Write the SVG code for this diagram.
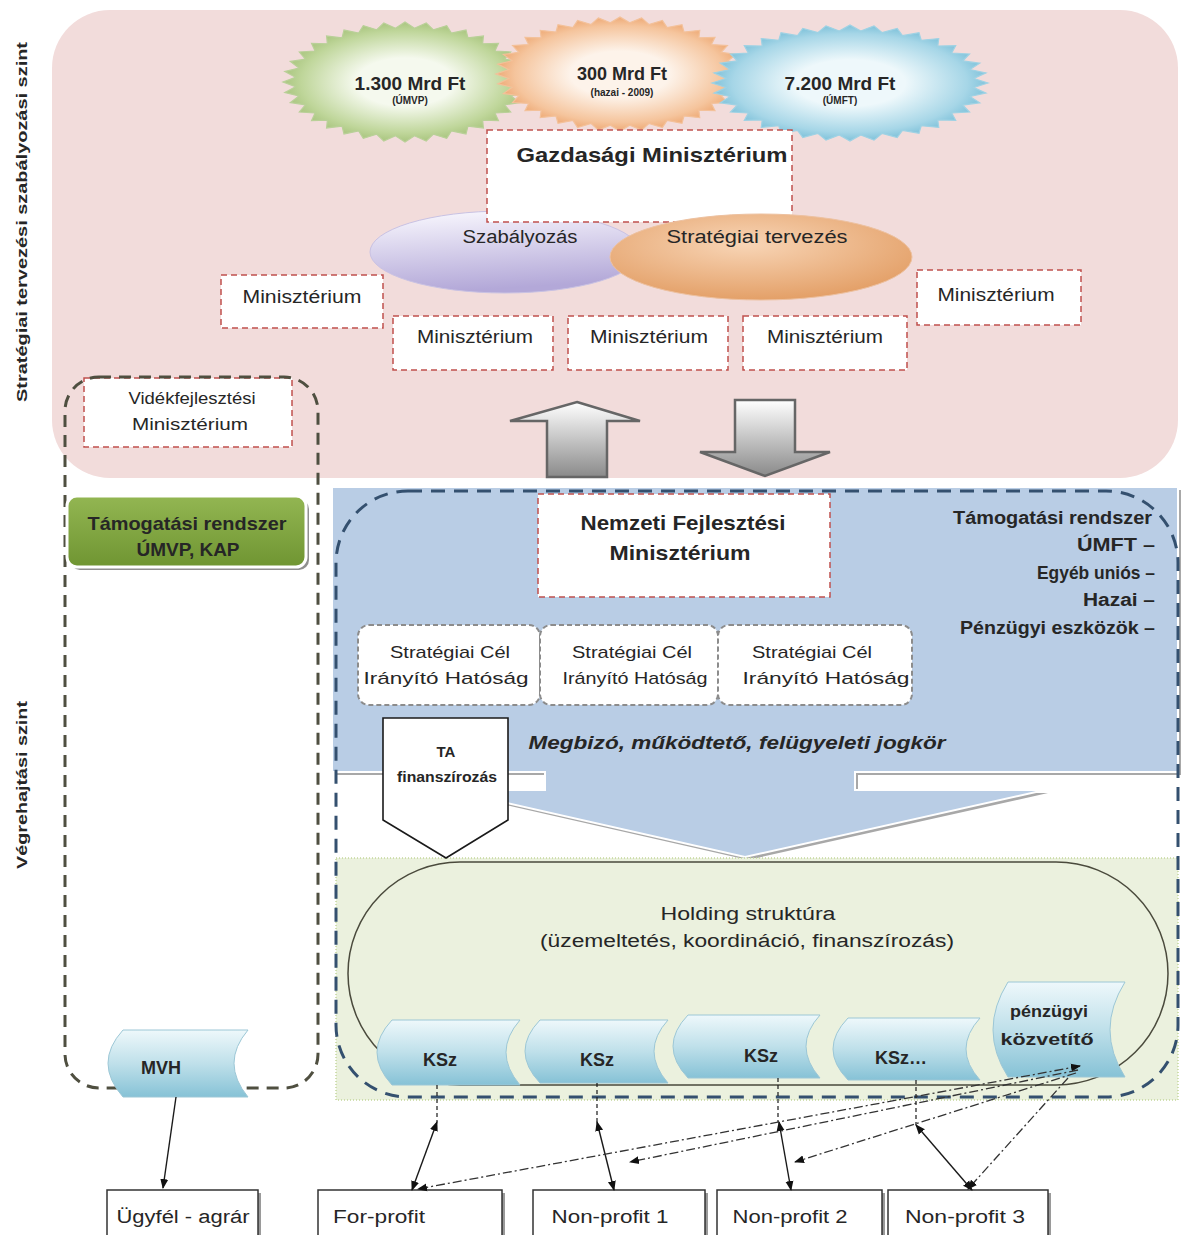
<svg xmlns="http://www.w3.org/2000/svg" width="1181" height="1235" viewBox="0 0 1181 1235">
<style>
text{font-family:"Liberation Sans",Arial,sans-serif;fill:#262626}
.b{font-weight:bold}
.mid{text-anchor:middle}
.min{fill:#fff;stroke:#c0504d;stroke-width:1.5;stroke-dasharray:6,4}
.cel{fill:#fff;stroke:#8c8c8c;stroke-width:2;stroke-dasharray:5,3}
.ksz{fill:url(#gKsz);stroke:#9cc7d6;stroke-width:1}
.bot{fill:#fff;stroke:#333;stroke-width:1.5}
.sh{fill:#9a9a9a}
.con{fill:none;stroke:#1a1a1a;stroke-width:1.4}
.vd{fill:none;stroke:#1a1a1a;stroke-width:1.2;stroke-dasharray:4,3}
.dd{fill:none;stroke:#333;stroke-width:1.3;stroke-dasharray:9,3,2,3}
.star{stroke-width:1.2}
</style>
<defs>
<polygon id="star" vector-effect="non-scaling-stroke" points="100,0 89.7,7.8 98.5,17.4 86.9,23.3 94,34.2 81.6,38 86.6,50 73.7,51.6 76.6,64.3 63.6,63.6 64.3,76.6 51.6,73.7 50,86.6 38,81.6 34.2,94 23.3,86.9 17.4,98.5 7.8,89.7 0,100 -7.8,89.7 -17.4,98.5 -23.3,86.9 -34.2,94 -38,81.6 -50,86.6 -51.6,73.7 -64.3,76.6 -63.6,63.6 -76.6,64.3 -73.7,51.6 -86.6,50 -81.6,38 -94,34.2 -86.9,23.3 -98.5,17.4 -89.7,7.8 -100,0 -89.7,-7.8 -98.5,-17.4 -86.9,-23.3 -94,-34.2 -81.6,-38 -86.6,-50 -73.7,-51.6 -76.6,-64.3 -63.6,-63.6 -64.3,-76.6 -51.6,-73.7 -50,-86.6 -38,-81.6 -34.2,-94 -23.3,-86.9 -17.4,-98.5 -7.8,-89.7 0,-100 7.8,-89.7 17.4,-98.5 23.3,-86.9 34.2,-94 38,-81.6 50,-86.6 51.6,-73.7 64.3,-76.6 63.6,-63.6 76.6,-64.3 73.7,-51.6 86.6,-50 81.6,-38 94,-34.2 86.9,-23.3 98.5,-17.4 89.7,-7.8"/>
<radialGradient id="gStarG"><stop offset="0.4" stop-color="#f5f9ee"/><stop offset="0.85" stop-color="#bfd69a"/><stop offset="1" stop-color="#a9c57f"/></radialGradient>
<radialGradient id="gStarO"><stop offset="0.4" stop-color="#fdf3ea"/><stop offset="0.85" stop-color="#f5c49c"/><stop offset="1" stop-color="#eeaa76"/></radialGradient>
<radialGradient id="gStarB"><stop offset="0.4" stop-color="#eef8fb"/><stop offset="0.85" stop-color="#a6d6e7"/><stop offset="1" stop-color="#80c2da"/></radialGradient>
<linearGradient id="gLav" x1="0" y1="0" x2="0.2" y2="1"><stop offset="0" stop-color="#fbfaff"/><stop offset="1" stop-color="#b3a8d8"/></linearGradient>
<radialGradient id="gPeach" cx="0.45" cy="0.35" r="0.7"><stop offset="0" stop-color="#f8d5b6"/><stop offset="1" stop-color="#e29c62"/></radialGradient>
<linearGradient id="gKsz" x1="0" y1="0" x2="0" y2="1"><stop offset="0" stop-color="#eef8fb"/><stop offset="0.5" stop-color="#bfe0ea"/><stop offset="1" stop-color="#86c2d6"/></linearGradient>
<linearGradient id="gGray" x1="0" y1="0" x2="0" y2="1"><stop offset="0" stop-color="#ffffff"/><stop offset="1" stop-color="#8a8a8a"/></linearGradient>
<linearGradient id="gGreenBox" x1="0" y1="0" x2="0" y2="1"><stop offset="0" stop-color="#93b652"/><stop offset="1" stop-color="#6f9532"/></linearGradient>
<marker id="ah" viewBox="0 0 10 10" refX="9" refY="5" markerWidth="10" markerHeight="10" markerUnits="userSpaceOnUse" orient="auto-start-reverse"><path d="M0,1 L10,5 L0,9 Z" fill="#111"/></marker>
</defs>

<rect x="0" y="0" width="1181" height="1235" fill="#fff"/>
<g id="strategic-area">
<rect x="52" y="10" width="1126" height="468" rx="58" fill="#f2dcdb"/>
</g>
<g id="execution-area">
<path d="M335,490 H1181 V775 H858 V793 H1048 L748,860 L453,793 H548 V775 H335 Z" fill="#a8a8a8"/>
<path d="M332,487 H1178 V772 H855 V790 H1045 L745,857 L450,790 H545 V772 H332 Z" fill="#b9cde5" stroke="#fff" stroke-width="2"/>
</g>
<g id="holding-area">
<rect x="336" y="858" width="842" height="242" fill="#ebf1de" stroke="#c3d69b" stroke-width="1.5" stroke-dasharray="1,2"/>
</g>

<g id="labels">
<text class="b mid" x="0" y="0" font-size="15" textLength="360" lengthAdjust="spacingAndGlyphs" transform="translate(27,222) rotate(-90)">Stratégiai tervezési  szabályozási szint</text>
<text class="b mid" x="0" y="0" font-size="15" textLength="168" lengthAdjust="spacingAndGlyphs" transform="translate(27,785) rotate(-90)">Végrehajtási szint</text>
</g>

<g id="star-umvp">
<use href="#star" class="star" fill="url(#gStarG)" stroke="#b9d098" transform="translate(405,82) scale(1.22,0.6)"/>
<text class="b mid" x="410" y="90" font-size="19">1.300 Mrd Ft</text>
<text class="b mid" x="410" y="104" font-size="10">(ÚMVP)</text>
</g>
<g id="star-hazai">
<use href="#star" class="star" fill="url(#gStarO)" stroke="#f3c19a" transform="translate(620,74) scale(1.24,0.57)"/>
<text class="b mid" x="622" y="80" font-size="18">300 Mrd Ft</text>
<text class="b mid" x="622" y="96" font-size="10">(hazai - 2009)</text>
</g>
<g id="star-umft">
<use href="#star" class="star" fill="url(#gStarB)" stroke="#9fd2e4" transform="translate(850,83) scale(1.38,0.58)"/>
<text class="b mid" x="840" y="90" font-size="19">7.200 Mrd Ft</text>
<text class="b mid" x="840" y="104" font-size="10">(ÚMFT)</text>
</g>

<g id="szabalyozas">
<ellipse cx="505" cy="252" rx="135" ry="41" fill="url(#gLav)" stroke="#c9c2e3" stroke-width="1"/>
<text class="mid" x="520" y="243" font-size="18" textLength="115" lengthAdjust="spacingAndGlyphs">Szabályozás</text>
</g>
<g id="gm">
<rect class="min" x="487" y="130" width="305" height="92"/>
<text class="b mid" x="652" y="162" font-size="21" textLength="271" lengthAdjust="spacingAndGlyphs">Gazdasági Minisztérium</text>
</g>
<g id="strategiai-tervezes">
<ellipse cx="761" cy="257" rx="151" ry="43" fill="url(#gPeach)" stroke="#edc1a0" stroke-width="1"/>
<text class="mid" x="757" y="243" font-size="18" textLength="181" lengthAdjust="spacingAndGlyphs">Stratégiai tervezés</text>
</g>

<g id="min1"><rect class="min" x="221" y="275" width="162" height="53"/><text class="mid" x="302" y="303" font-size="18" textLength="119" lengthAdjust="spacingAndGlyphs">Minisztérium</text></g>
<g id="min2"><rect class="min" x="393" y="316" width="160" height="54"/><text class="mid" x="475" y="343" font-size="18" textLength="116" lengthAdjust="spacingAndGlyphs">Minisztérium</text></g>
<g id="min3"><rect class="min" x="568" y="316" width="160" height="54"/><text class="mid" x="649" y="343" font-size="18" textLength="118" lengthAdjust="spacingAndGlyphs">Minisztérium</text></g>
<g id="min4"><rect class="min" x="743" y="316" width="164" height="54"/><text class="mid" x="825" y="343" font-size="18" textLength="116" lengthAdjust="spacingAndGlyphs">Minisztérium</text></g>
<g id="min5"><rect class="min" x="917" y="270" width="164" height="55"/><text class="mid" x="996" y="301" font-size="18" textLength="117" lengthAdjust="spacingAndGlyphs">Minisztérium</text></g>
<g id="vm"><rect class="min" x="84" y="378" width="208" height="69"/><text class="mid" x="192" y="404" font-size="17" textLength="127" lengthAdjust="spacingAndGlyphs" fill="#3a3a3a">Vidékfejlesztési</text><text class="mid" x="190" y="430" font-size="17" textLength="116" lengthAdjust="spacingAndGlyphs" fill="#3a3a3a">Minisztérium</text></g>

<g id="arrow-up">
<path d="M577,402 L640,421 H607 V477 H547 V421 H510 Z" fill="url(#gGray)" stroke="#666" stroke-width="2.5"/>
</g>
<g id="arrow-down">
<path d="M735,400 H795 V452 H830 L765,476 L700,452 H735 Z" fill="url(#gGray)" stroke="#666" stroke-width="2.5"/>
</g>

<g id="vm-group">
<rect x="65" y="377" width="253" height="711" rx="34" fill="none" stroke="#4f4f40" stroke-width="3" stroke-dasharray="12,8"/>
</g>
<g id="tam-umvp">
<rect x="70" y="499" width="239" height="71" rx="10" fill="#8f8f8f"/>
<rect x="67" y="496" width="239" height="71" rx="10" fill="url(#gGreenBox)" stroke="#fff" stroke-width="3"/>
<text class="b mid" x="187" y="530" font-size="19" textLength="199" lengthAdjust="spacingAndGlyphs" fill="#111">Támogatási rendszer</text>
<text class="b mid" x="188" y="556" font-size="19" textLength="103" lengthAdjust="spacingAndGlyphs" fill="#111">ÚMVP, KAP</text>
</g>

<g id="nfm">
<rect class="min" x="538" y="494" width="292" height="103"/>
<text class="b mid" x="683" y="530" font-size="21" textLength="205" lengthAdjust="spacingAndGlyphs">Nemzeti Fejlesztési</text>
<text class="b mid" x="680" y="560" font-size="21" textLength="141" lengthAdjust="spacingAndGlyphs">Minisztérium</text>
</g>
<g id="tam-umft">
<text class="b" x="1152" y="524" font-size="18" text-anchor="end" textLength="199" lengthAdjust="spacingAndGlyphs">Támogatási rendszer</text>
<text class="b" x="1155" y="551" font-size="18" text-anchor="end" textLength="78" lengthAdjust="spacingAndGlyphs">ÚMFT –</text>
<text class="b" x="1155" y="579" font-size="18" text-anchor="end" textLength="118" lengthAdjust="spacingAndGlyphs">Egyéb uniós –</text>
<text class="b" x="1155" y="606" font-size="18" text-anchor="end" textLength="72" lengthAdjust="spacingAndGlyphs">Hazai –</text>
<text class="b" x="1155" y="634" font-size="18" text-anchor="end" textLength="195" lengthAdjust="spacingAndGlyphs">Pénzügyi eszközök –</text>
</g>
<g id="cel1"><rect class="cel" x="358" y="625" width="182" height="80" rx="11"/><text class="mid" x="450" y="658" font-size="17" textLength="120" lengthAdjust="spacingAndGlyphs">Stratégiai Cél</text><text class="mid" x="446" y="684" font-size="17" textLength="165" lengthAdjust="spacingAndGlyphs">Irányító Hatóság</text></g>
<g id="cel2"><rect class="cel" x="540" y="625" width="178" height="80" rx="11"/><text class="mid" x="632" y="658" font-size="17" textLength="120" lengthAdjust="spacingAndGlyphs">Stratégiai Cél</text><text class="mid" x="635" y="684" font-size="17" textLength="145" lengthAdjust="spacingAndGlyphs">Irányító Hatóság</text></g>
<g id="cel3"><rect class="cel" x="718" y="625" width="194" height="80" rx="11"/><text class="mid" x="812" y="658" font-size="17" textLength="120" lengthAdjust="spacingAndGlyphs">Stratégiai Cél</text><text class="mid" x="826" y="684" font-size="17" textLength="167" lengthAdjust="spacingAndGlyphs">Irányító Hatóság</text></g>
<g id="megbizo">
<text class="b mid" x="737" y="749" font-size="19" font-style="italic" textLength="417" lengthAdjust="spacingAndGlyphs" fill="#1f2a3a">Megbizó, működtető, felügyeleti jogkör</text>
</g>
<g id="ta">
<path d="M383,718 H508 V820 L446,858 L383,820 Z" fill="#fff" stroke="#1a1a1a" stroke-width="1.6"/>
<text class="b mid" x="446" y="757" font-size="15">TA</text>
<text class="b mid" x="447" y="782" font-size="15" textLength="100" lengthAdjust="spacingAndGlyphs">finanszírozás</text>
</g>

<g id="holding">
<rect x="348" y="862" width="820" height="223" rx="112" fill="none" stroke="#4a4a3c" stroke-width="1.5"/>
<text class="mid" x="748" y="920" font-size="18" textLength="175" lengthAdjust="spacingAndGlyphs" fill="#595959">Holding struktúra</text>
<text class="mid" x="747" y="947" font-size="18" textLength="414" lengthAdjust="spacingAndGlyphs" fill="#595959">(üzemeltetés, koordináció, finanszírozás)</text>
</g>
<g id="ksz1"><path class="ksz" d="M392,1020 H520 Q492,1052 520,1085 H392 Q362,1052 392,1020 Z"/><text class="b mid" x="440" y="1066" font-size="18">KSz</text></g>
<g id="ksz2"><path class="ksz" d="M540,1020 H668 Q640,1051 668,1083 H540 Q510,1051 540,1020 Z"/><text class="b mid" x="597" y="1066" font-size="18">KSz</text></g>
<g id="ksz3"><path class="ksz" d="M688,1015 H820 Q792,1046 820,1078 H688 Q658,1046 688,1015 Z"/><text class="b mid" x="761" y="1062" font-size="18">KSz</text></g>
<g id="ksz4"><path class="ksz" d="M848,1018 H980 Q952,1049 980,1080 H848 Q818,1049 848,1018 Z"/><text class="b mid" x="901" y="1064" font-size="18">KSz…</text></g>
<g id="penzugyi"><path class="ksz" d="M1008,982 H1125 Q1095,1030 1125,1077 H1008 Q978,1030 1008,982 Z"/><text class="b mid" x="1049" y="1017" font-size="17" textLength="78" lengthAdjust="spacingAndGlyphs">pénzügyi</text><text class="b mid" x="1047" y="1045" font-size="17" textLength="93" lengthAdjust="spacingAndGlyphs">közvetítő</text></g>
<g id="mvh"><path class="ksz" d="M123,1030 H248 Q220,1063 248,1097 H123 Q93,1063 123,1030 Z"/><text class="b mid" x="161" y="1074" font-size="18">MVH</text></g>

<g id="nfm-group">
<rect x="336" y="491" width="842" height="606" rx="72" fill="none" stroke="#34506f" stroke-width="3" stroke-dasharray="14,9"/>
</g>

<g id="ugyfel"><rect class="sh" x="110" y="1193" width="151" height="50"/><rect class="bot" x="107" y="1190" width="151" height="50"/><text class="mid" x="183" y="1223" font-size="18" textLength="133" lengthAdjust="spacingAndGlyphs">Ügyfél - agrár</text></g>
<g id="forprofit"><rect class="sh" x="321" y="1193" width="184" height="50"/><rect class="bot" x="318" y="1190" width="184" height="50"/><text x="333" y="1223" font-size="18" textLength="92" lengthAdjust="spacingAndGlyphs">For-profit</text></g>
<g id="np1"><rect class="sh" x="536" y="1193" width="172" height="50"/><rect class="bot" x="533" y="1190" width="172" height="50"/><text class="mid" x="610" y="1223" font-size="18" textLength="117" lengthAdjust="spacingAndGlyphs">Non-profit 1</text></g>
<g id="np2"><rect class="sh" x="720" y="1193" width="165" height="50"/><rect class="bot" x="717" y="1190" width="165" height="50"/><text class="mid" x="790" y="1223" font-size="18" textLength="115" lengthAdjust="spacingAndGlyphs">Non-profit 2</text></g>
<g id="np3"><rect class="sh" x="891" y="1193" width="160" height="50"/><rect class="bot" x="888" y="1190" width="160" height="50"/><text class="mid" x="965" y="1223" font-size="18" textLength="120" lengthAdjust="spacingAndGlyphs">Non-profit 3</text></g>

<g id="connectors">
<line class="con" x1="176" y1="1097" x2="163" y2="1188" marker-end="url(#ah)"/>
<line class="vd" x1="437" y1="1085" x2="437" y2="1122"/>
<line class="vd" x1="597" y1="1083" x2="597" y2="1122"/>
<line class="vd" x1="778" y1="1078" x2="778" y2="1122"/>
<line class="vd" x1="916" y1="1080" x2="916" y2="1125"/>
<line class="con" x1="437" y1="1122" x2="412" y2="1190" marker-start="url(#ah)" marker-end="url(#ah)"/>
<line class="con" x1="597" y1="1122" x2="614" y2="1190" marker-start="url(#ah)" marker-end="url(#ah)"/>
<line class="con" x1="779" y1="1122" x2="791" y2="1190" marker-start="url(#ah)" marker-end="url(#ah)"/>
<line class="con" x1="916" y1="1125" x2="972" y2="1190" marker-start="url(#ah)" marker-end="url(#ah)"/>
<line class="dd" x1="1080" y1="1066" x2="418" y2="1189" marker-start="url(#ah)" marker-end="url(#ah)"/>
<line class="dd" x1="1078" y1="1070" x2="630" y2="1162" marker-end="url(#ah)"/>
<line class="dd" x1="1076" y1="1073" x2="795" y2="1162" marker-end="url(#ah)"/>
<line class="dd" x1="1068" y1="1078" x2="968" y2="1189" marker-end="url(#ah)"/>
</g>
</svg>
